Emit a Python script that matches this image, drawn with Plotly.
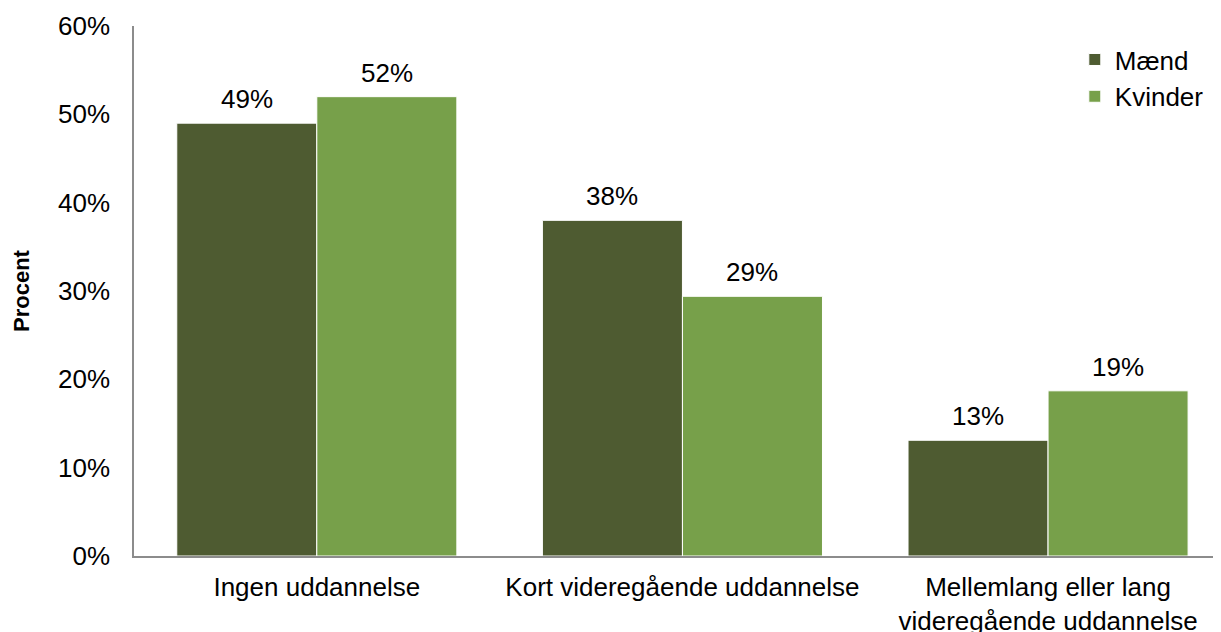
import plotly.graph_objects as go

categories = ["Ingen uddannelse", "Kort videregående uddannelse",
              "Mellemlang eller lang<br>videregående uddannelse"]
maend = [49.0, 38.0, 13.1]
kvinder = [52.0, 29.4, 18.7]
series_names = ["Mænd", "Kvinder"]
colors = ["#4E5B31", "#77A04A"]
y_tickvals = [0, 10, 20, 30, 40, 50, 60]
y_ticktext = ["0%", "10%", "20%", "30%", "40%", "50%", "60%"]

FONT = "Liberation Sans, Arial, sans-serif"
FS = 26
BARGAP = 0.234

fig = go.Figure()
for name, vals, col in zip(series_names, [maend, kvinder], colors):
    fig.add_trace(go.Bar(
        x=categories, y=vals, name=name, legendgroup=name,
        marker=dict(color=col, line=dict(color="#ffffff", width=1)),
    ))

# data labels above bars, placed at bar centres derived from bargap
half = (1 - BARGAP) / 4
for s, vals in enumerate([maend, kvinder]):
    off = -half if s == 0 else half
    for j, v in enumerate(vals):
        fig.add_annotation(
            x=j + off, y=v, xref="x", yref="y",
            text=f"{round(v):d}%", showarrow=False,
            yanchor="middle", yshift=24,
            font=dict(family=FONT, size=FS, color="#000000"),
        )

fig.update_layout(
    width=1213, height=624,
    margin=dict(l=126, r=0, t=18, b=76, autoexpand=False),
    paper_bgcolor="white", plot_bgcolor="white",
    barmode="group", bargap=BARGAP, bargroupgap=0,
    font=dict(family=FONT, size=FS, color="#000000"),
    showlegend=True,
    legend=dict(
        x=0.8655, y=0.981, xanchor="left", yanchor="top",
        font=dict(family=FONT, size=FS, color="#000000"),
        bgcolor="rgba(0,0,0,0)", tracegroupgap=7,
        traceorder="normal",
    ),
)
fig.update_xaxes(
    type="category", range=[-0.5, 2.473],
    showline=True, linecolor="#8c8c8c", linewidth=1.5,
    ticks="", showgrid=False, zeroline=False,
    tickfont=dict(family=FONT, size=FS, color="#000000"),
    ticklabelstandoff=7,
    automargin=False,
)
fig.update_yaxes(
    range=[0, 60], tickvals=y_tickvals, ticktext=y_ticktext,
    showline=True, linecolor="#8c8c8c", linewidth=1.5,
    ticks="", showgrid=False, zeroline=False,
    tickfont=dict(family=FONT, size=FS, color="#000000"),
    ticklabelstandoff=17,
    title=dict(text="<b>Procent</b>", standoff=22,
               font=dict(family=FONT, size=FS - 4, color="#000000")),
    automargin=False,
)

fig.write_html("out.html")
